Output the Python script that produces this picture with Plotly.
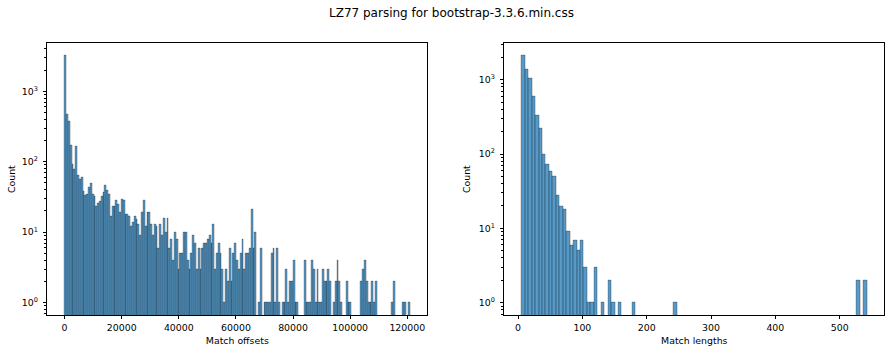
import numpy as np
import plotly.graph_objects as go

TITLE = "LZ77 parsing for bootstrap-3.3.6.min.css"

# ---- Left histogram: match offsets (bin counts) ----
offset_bin_start = 0
offset_bin_width = 640
offset_counts = [
    3200, 471, 375, 171, 92, 79, 166, 64, 56, 60,
    38, 33, 35, 44, 50, 34, 32, 23, 26, 27,
    32, 37, 46, 39, 35, 17, 23, 23, 28, 25,
    19, 29, 28, 18, 18, 17, 12, 14, 17, 15,
    13, 9, 19, 28, 12, 19,
    19, 13, 9, 13, 12, 6, 13, 9, 16, 10,
    16, 6, 8, 4, 10, 8, 3, 5, 5, 10,
    10, 4, 3, 5, 9, 7, 3, 6, 3, 6,
    7, 7, 8, 9, 7, 13, 3, 5, 7, 5,
    3, 1, 3, 2, 6, 2, 5, 7, 4,
    3, 5, 8, 3, 5, 5, 6, 21,
    6, 10, 0, 1, 6, 0, 1, 1, 1, 1,
    5, 6, 1, 6, 1, 0, 1, 1, 3, 1,
    2, 2, 4, 1, 1, 0, 0, 0, 4, 1,
    1, 1, 4, 3, 1, 3, 1, 1, 3, 2,
    2, 3, 2, 0, 1, 2, 4, 2, 1, 0,
    0, 2, 1, 1, 0, 0, 0, 0, 0, 2,
    3, 4, 2, 1, 1, 2, 1, 2, 0, 0,
    0, 0, 0, 0, 0, 0, 1, 2, 0, 0,
    0, 0, 1, 1, 0, 1,
]

# ---- Right histogram: match lengths ----
length_bin_start = 5.5
length_bin_width = 5.37
length_counts = [
    2110, 1370, 1050, 596, 334, 224, 100, 73, 59, 50,
    28, 20, 18, 9, 6, 7, 5, 7, 3, 1,
    1, 3, 0, 1, 0, 2, 1, 0, 1, 0,
    0, 0, 1, 0, 0, 0, 0, 0, 0, 0,
    0, 0, 0, 0, 1, 0, 0, 0, 0, 0,
    0, 0, 0, 0, 0, 0, 0, 0, 0, 0,
    0, 0, 0, 0, 0, 0, 0, 0, 0, 0,
    0, 0, 0, 0, 0, 0, 0, 0, 0, 0,
    0, 0, 0, 0, 0, 0, 0, 0, 0, 0,
    0, 0, 0, 0, 0, 0, 0, 2, 0, 2,
]

offset_ticks = [0, 20000, 40000, 60000, 80000, 100000, 120000]
length_ticks = [0, 100, 200, 300, 400, 500]
count_tickvals = [1, 10, 100, 1000]
count_ticktext = ["10<sup>0</sup>", "10<sup>1</sup>", "10<sup>2</sup>", "10<sup>3</sup>"]

FONT = "DejaVu Sans"
FILL = "rgba(31,119,180,0.75)"
EDGE = "rgba(0,0,0,0.5)"


def bars(start, width, counts, xa, ya):
    n = len(counts)
    centers = start + width * (np.arange(n) + 0.5)
    ys = [c if c > 0 else None for c in counts]
    return go.Bar(
        x=centers, y=ys, width=[width] * n, xaxis=xa, yaxis=ya,
        marker=dict(color=FILL, line=dict(color=EDGE, width=0.5)),
        showlegend=False, hoverinfo="x+y",
    )


def xrange_of(start, width, counts):
    lo = start
    hi = start + width * len(counts)
    m = 0.05 * (hi - lo)
    return [lo - m, hi + m]


def yrange_of(counts):
    top = np.log10(max(counts))
    return [-0.05 * top, 1.05 * top]


W, H = 891, 353
fig = go.Figure()
fig.add_trace(bars(offset_bin_start, offset_bin_width, offset_counts, "x", "y"))
fig.add_trace(bars(length_bin_start, length_bin_width, length_counts, "x2", "y2"))

ydom = [1 - 315 / H, 1 - 43.3 / H]
axis_common = dict(
    showgrid=False, zeroline=False, showline=True, mirror=True,
    linecolor="black", linewidth=0.9, ticks="outside", ticklen=3.5,
    tickwidth=0.9, tickcolor="black", automargin=False,
    tickfont=dict(family=FONT, size=9.4, color="black"),
)
xcommon = dict(axis_common, tickformat="d")
ycommon = dict(
    axis_common, type="log", tickvals=count_tickvals, ticktext=count_ticktext,
    ticklabelstandoff=3,
    minor=dict(ticks="outside", ticklen=2, tickwidth=0.6, tickcolor="black",
               dtick="D1", showgrid=False),
)

fig.update_layout(
    width=W, height=H,
    margin=dict(l=0, r=0, t=0, b=0),
    paper_bgcolor="white", plot_bgcolor="white",
    bargap=0,
    font=dict(family=FONT, size=9.4, color="black"),
    xaxis=dict(xcommon, domain=[47.3 / W, 427.3 / W], anchor="y",
               range=xrange_of(offset_bin_start, offset_bin_width, offset_counts),
               tickvals=offset_ticks,
               title=dict(text="Match offsets", standoff=5,
                          font=dict(family=FONT, size=9.4, color="black"))),
    yaxis=dict(ycommon, domain=ydom, anchor="x",
               range=yrange_of(offset_counts),
               title=dict(text="Count", standoff=4,
                          font=dict(family=FONT, size=9.4, color="black"))),
    xaxis2=dict(xcommon, domain=[504.3 / W, 884.3 / W], anchor="y2",
                range=xrange_of(length_bin_start, length_bin_width, length_counts),
                tickvals=length_ticks,
                title=dict(text="Match lengths", standoff=5,
                           font=dict(family=FONT, size=9.4, color="black"))),
    yaxis2=dict(ycommon, domain=ydom, anchor="x2",
                range=yrange_of(length_counts),
                title=dict(text="Count", standoff=6,
                           font=dict(family=FONT, size=9.4, color="black"))),
    annotations=[dict(
        text=TITLE, x=451.5 / W, y=1 - 13 / H, xref="paper", yref="paper",
        xanchor="center", yanchor="middle", showarrow=False,
        font=dict(family=FONT, size=12, color="black"),
    )],
)

fig.write_html("out.html")
